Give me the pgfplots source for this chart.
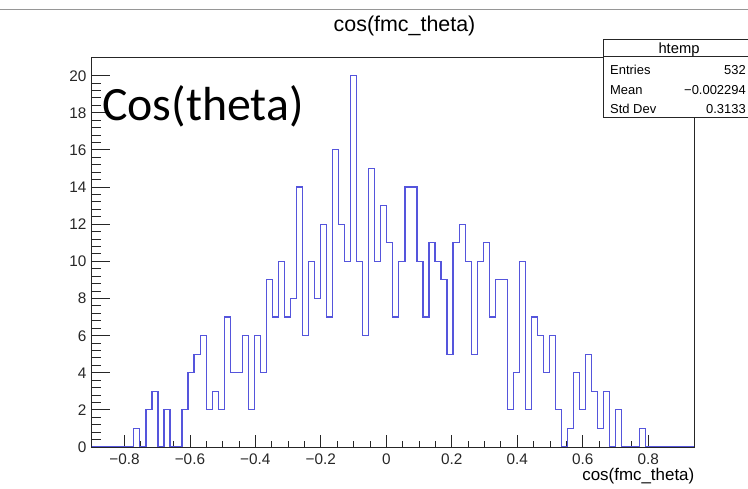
\documentclass[border=0pt]{standalone}
\usepackage{fontspec}
\setmainfont{Liberation Sans}
\newfontfamily\slidefont{Carlito}
\usepackage{pgfplots}
\usepackage{pgfplotstable}
\pgfplotsset{compat=1.18}

\definecolor{histline}{RGB}{85,85,220}
\definecolor{rulegray}{RGB}{150,150,150}

% htemp: 100 bins on [-0.90, 0.94], bin width 0.0184; column edge = lower bin edge
\pgfplotstableread{
edge count
-0.9000 0
-0.8816 0
-0.8632 0
-0.8448 0
-0.8264 0
-0.8080 0
-0.7896 0
-0.7712 1
-0.7528 0
-0.7344 2
-0.7160 3
-0.6976 0
-0.6792 2
-0.6608 0
-0.6424 0
-0.6240 2
-0.6056 4
-0.5872 5
-0.5688 6
-0.5504 2
-0.5320 3
-0.5136 2
-0.4952 7
-0.4768 4
-0.4584 4
-0.4400 6
-0.4216 2
-0.4032 6
-0.3848 4
-0.3664 9
-0.3480 7
-0.3296 10
-0.3112 7
-0.2928 8
-0.2744 14
-0.2560 6
-0.2376 10
-0.2192 8
-0.2008 12
-0.1824 7
-0.1640 16
-0.1456 12
-0.1272 10
-0.1088 20
-0.0904 10
-0.0720 6
-0.0536 15
-0.0352 10
-0.0168 13
0.0016 11
0.0200 7
0.0384 10
0.0568 14
0.0752 14
0.0936 10
0.1120 7
0.1304 11
0.1488 10
0.1672 9
0.1856 5
0.2040 11
0.2224 12
0.2408 10
0.2592 5
0.2776 10
0.2960 11
0.3144 7
0.3328 9
0.3512 9
0.3696 2
0.3880 4
0.4064 10
0.4248 2
0.4432 7
0.4616 6
0.4800 4
0.4984 6
0.5168 2
0.5352 0
0.5536 1
0.5720 4
0.5904 2
0.6088 5
0.6272 3
0.6456 1
0.6640 3
0.6824 0
0.7008 2
0.7192 0
0.7376 0
0.7560 0
0.7744 1
0.7928 0
0.8112 0
0.8296 0
0.8480 0
0.8664 0
0.8848 0
0.9032 0
0.9216 0
0.9400 0
}\costheta

\begin{document}
\begin{tikzpicture}[x=1bp,y=1bp]
\path[use as bounding box] (0,0) rectangle (748,489);

% rule above the title
\draw[rulegray, line width=0.8bp] (0,480) -- (748,480);

\begin{axis}[
  at={(91.7bp,42bp)}, anchor=south west,
  scale only axis, width=602.3bp, height=390bp,
  xmin=-0.9, xmax=0.94, ymin=0, ymax=21,
  axis line style={black!85, line width=0.8bp},
  xtick pos=bottom, ytick pos=left, tick align=inside,
  xtick={-0.8,-0.6,-0.4,-0.2,0,0.2,0.4,0.6,0.8},
  xticklabels={−0.8,−0.6,−0.4,−0.2,0,0.2,0.4,0.6,0.8},
  minor x tick num=3,
  ytick={0,2,4,6,8,10,12,14,16,18,20},
  minor y tick num=4,
  every tick/.style={black!85, line width=0.8bp},
  every x tick/.append style={/pgfplots/major tick length=12bp, /pgfplots/minor tick length=6bp},
  every y tick/.append style={/pgfplots/major tick length=18bp, /pgfplots/minor tick length=9bp},
  /pgf/number format/assume math mode=true,
  tick label style={font=\fontsize{15.4}{16}\selectfont, text=black!85},
  xticklabel style={anchor=base, inner sep=0pt, yshift=-17.3bp},
  yticklabel style={anchor=base east, inner sep=0pt, xshift=-5bp, yshift=-5.5bp},
]
\addplot[const plot mark left, draw=histline, line width=1.2bp, mark=none]
  table[x=edge, y=count] {\costheta};
\end{axis}

% title and axis title
\node[anchor=base, inner sep=0pt, font=\fontsize{21.5}{22}\selectfont] at (404.5,457.3) {cos(fmc\_theta)};
\node[anchor=base east, inner sep=0pt, font=\fontsize{17}{18}\selectfont] at (694.5,8.3) {cos(fmc\_theta)};

% large annotation
\node[anchor=west, inner sep=0pt, font=\slidefont\fontsize{48}{50}\selectfont] at (102,383) {Cos(theta)};

% statistics box
\filldraw[fill=white, draw=black!85, line width=0.8bp] (603.3,371.7) rectangle (754.7,449.7);
\draw[black!85, line width=0.8bp] (603.3,432.3) -- (754.7,432.3);
\begin{scope}[every node/.style={inner sep=0pt, font=\fontsize{13}{14}\selectfont}]
  \node[anchor=base, font=\fontsize{14.8}{15}\selectfont] at (679,435.5) {htemp};
  \node[anchor=base west] at (610,414) {Entries};
  \node[anchor=base east] at (746,414) {532};
  \node[anchor=base west] at (610,394.7) {Mean};
  \node[anchor=base east] at (746,394.7) {−0.002294};
  \node[anchor=base west] at (610,375) {Std Dev};
  \node[anchor=base east] at (746,375) {0.3133};
\end{scope}
\end{tikzpicture}
\end{document}
